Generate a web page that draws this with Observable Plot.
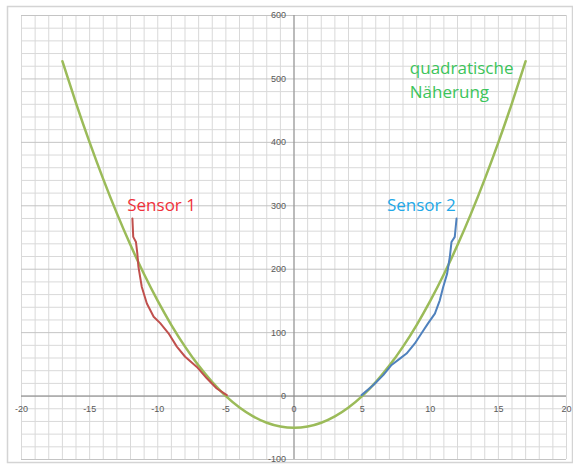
<!DOCTYPE html>
<html><head><meta charset="utf-8">
<script src="https://cdn.jsdelivr.net/npm/d3@7"></script>
<script src="https://cdn.jsdelivr.net/npm/@observablehq/plot@0.6"></script>
<style>body{margin:0;background:#fff}</style>
</head><body><div id="chart"></div>
<script>
// quadratic fit ("quadratische Näherung"), read at integer x
const fitX = [-17,-16,-15,-14,-13,-12,-11,-10,-9,-8,-7,-6,-5,-4,-3,-2,-1,0,1,2,3,4,5,6,7,8,9,10,11,12,13,14,15,16,17];
const fitY = [528,462,400,342,288,238,192,150,112,78,48,22,0,-18,-32,-42,-48,-50,-48,-42,-32,-18,0,22,48,78,112,150,192,238,288,342,400,462,528];

// Sensor 1 (left branch)
const s1X = [-11.86,-11.8,-11.6,-11.5,-11.42,-11.17,-10.8,-10.3,-9.82,-9.21,-8.6,-7.99,-7.13,-6.4,-5.67,-4.93];
const s1Y = [280,251,243,225,204,172,146,125,115,99,78,62,46,28,12,1.5];

// Sensor 2 (right branch)
const s2X = [4.96,5.81,6.55,7.16,7.77,8.26,8.87,9.36,9.85,10.34,10.7,10.95,11.24,11.44,11.56,11.8,11.93];
const s2Y = [1.5,17,33,49,59,67,83,99,115,130,151,172,193,220,243,251,280];

// tick labels
const xTicks = [-20,-15,-10,-5,0,5,10,15,20];
const yTicks = [-100,0,100,200,300,400,500,600];

// annotations
const labelText = ["Sensor 1","Sensor 2","quadratische","Näherung"];
const labelX = [-12.24,6.82,8.5,8.5];
const labelY = [300,301,516,478];
const labelColor = ["#f0313a","#22a8e8","#3cc45a","#3cc45a"];

const fit = fitX.map((x,i)=>({x, y: fitY[i]}));
const s1 = s1X.map((x,i)=>({x, y: s1Y[i]}));
const s2 = s2X.map((x,i)=>({x, y: s2Y[i]}));
const labels = labelText.map((t,i)=>({t, x: labelX[i], y: labelY[i], c: labelColor[i]}));

const xGrid = d3.range(-20, 21, 1);
const yGrid = d3.range(-100, 601, 20);

const chart = Plot.plot({
  width: 573, height: 465,
  marginLeft: 21, marginRight: 7, marginTop: 15, marginBottom: 6,
  x: {domain: [-20, 20], axis: null},
  y: {domain: [-100, 600], axis: null},
  style: {background: "#fff", fontFamily: "Liberation Sans, Arial, sans-serif"},
  marks: [
    Plot.frame({stroke: "#d4d4d4", strokeWidth: 1.5, insetLeft: -14, insetTop: -9, insetRight: -6, insetBottom: -3}),
    Plot.ruleX(xGrid, {x: d => d, stroke: "#d9d9d9", strokeWidth: 1}),
    Plot.ruleY(yGrid, {y: d => d, stroke: d => d % 100 === 0 ? "#c4c4c4" : "#d9d9d9", strokeWidth: 1}),
    Plot.ruleX([0], {stroke: "#8a8a8a", strokeWidth: 1}),
    Plot.ruleY([0], {stroke: "#8a8a8a", strokeWidth: 1}),
    Plot.text(xTicks, {x: d => d, y: () => 0, dy: 13, text: d => String(d), fontSize: 9, fill: "#595959"}),
    Plot.text(yTicks, {x: () => 0, y: d => d, dx: -8, textAnchor: "end", text: d => String(d), fontSize: 9, fill: "#595959"}),
    Plot.line(fit, {x: "x", y: "y", curve: "natural", stroke: "#9bbb59", strokeWidth: 2.5}),
    Plot.line(s1, {x: "x", y: "y", stroke: "#c0504d", strokeWidth: 2}),
    Plot.line(s2, {x: "x", y: "y", stroke: "#4f81bd", strokeWidth: 2}),
    Plot.text(labels, {x: "x", y: "y", text: "t", fill: "c", textAnchor: "start", fontSize: 17, fontFamily: "Open Sans"})
  ]
});
document.getElementById("chart").appendChild(chart);
</script>
</body></html>
